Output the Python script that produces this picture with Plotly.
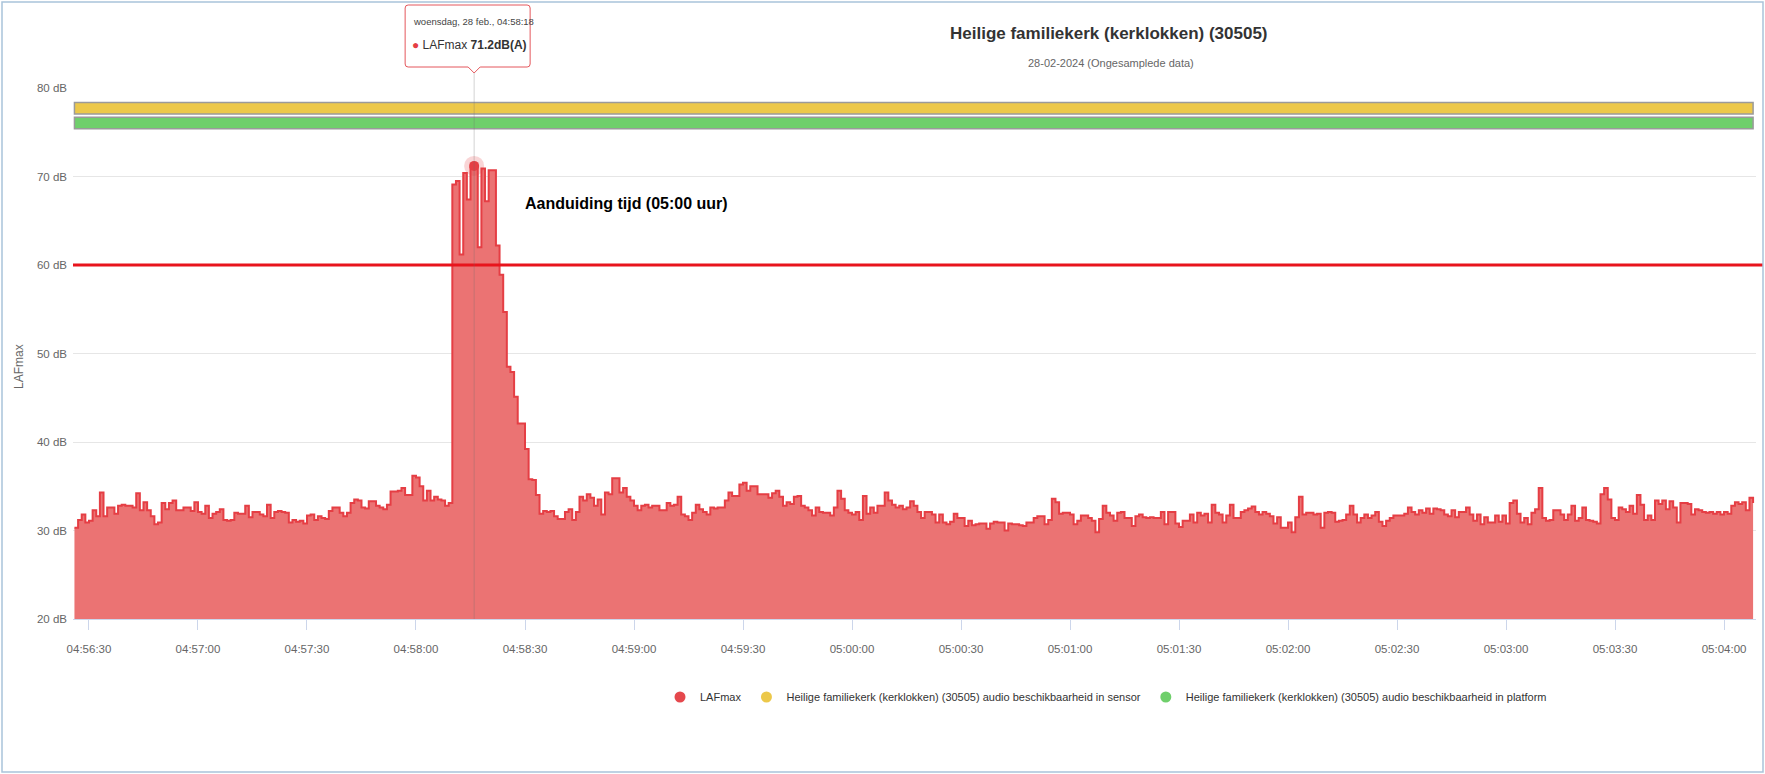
import pandas as pd
import plotly.graph_objects as go

# ---------------- data ----------------
title_text = "Heilige familiekerk (kerklokken) (30505)"
subtitle_text = "28-02-2024 (Ongesamplede data)"
series_name = "LAFmax"
sensor_name = "Heilige familiekerk (kerklokken) (30505) audio beschikbaarheid in sensor"
platform_name = "Heilige familiekerk (kerklokken) (30505) audio beschikbaarheid in platform"
first_timestamp = "2024-02-28 04:56:26"
sample_seconds = 1

# LAFmax (dB(A)) per second, 04:56:26 - 04:58:09
lafmax_before = [
    30.3, 31.2, 31.8, 30.9, 31.1, 32.3, 31.6, 34.3, 31.6, 32.6,
    32.6, 31.9, 32.8, 32.9, 32.8, 32.8, 32.6, 34.2, 32.3, 33.2,
    32.3, 31.6, 30.7, 30.9, 33.1, 32.4, 33.1, 33.4, 32.3, 32.3,
    32.6, 32.6, 32.2, 33.2, 32.1, 31.9, 32.8, 31.4, 31.9, 32.1,
    32.4, 31.2, 31.1, 31.2, 32.0, 31.9, 31.9, 32.8, 31.5, 32.1,
    32.1, 31.8, 31.6, 32.9, 31.4, 32.1, 32.2, 32.1, 32.0, 30.9,
    31.2, 31.0, 31.1, 30.8, 31.7, 31.8, 31.2, 31.6, 31.4, 31.3,
    32.2, 32.6, 32.6, 32.0, 31.6, 32.0, 33.1, 33.5, 33.4, 32.6,
    32.5, 33.3, 33.3, 32.8, 32.6, 32.4, 32.9, 34.4, 34.4, 34.5,
    34.8, 34.0, 34.0, 36.2, 36.0, 35.0, 33.4, 34.5, 33.4, 33.8,
    33.5, 33.4, 32.8, 33.1,
]
# church bells, 04:58:10 - 04:58:33
lafmax_bells = [
    69.1, 69.5, 61.2, 70.4, 67.4, 71.0, 71.2, 62.0, 70.9, 67.2,
    70.7, 70.7, 62.2, 58.9, 54.7, 48.5, 47.9, 45.1, 42.1, 42.1,
    39.2, 35.8, 35.7, 34.0,
]
# 04:58:34 - 04:58:59
lafmax_after = [
    31.9, 32.2, 32.1, 32.2, 31.6, 31.3, 31.3, 32.1, 32.4, 31.2,
    32.1, 33.8, 33.4, 34.1, 33.7, 32.8, 33.5, 31.8, 34.3, 34.1,
    35.9, 35.9, 34.3, 34.8, 33.8, 33.4,
]
# 04:59:00 - 05:01:34
lafmax_mid = [
    32.8, 32.3, 32.8, 32.9, 32.6, 32.8, 32.8, 32.3, 32.3, 33.1,
    32.8, 32.9, 33.8, 31.8, 31.6, 31.2, 32.0, 32.9, 32.4, 32.1,
    31.8, 32.6, 32.5, 32.6, 32.6, 33.4, 34.3, 33.9, 33.9, 35.2,
    35.4, 34.5, 35.0, 35.0, 34.1, 34.1, 34.1, 33.7, 34.2, 34.5,
    33.8, 32.8, 33.2, 33.0, 33.8, 33.9, 32.8, 32.6, 32.3, 31.7,
    32.6, 32.1, 32.0, 32.0, 31.7, 32.6, 34.5, 33.6, 32.3, 32.0,
    31.8, 32.1, 31.2, 33.9, 31.9, 32.6, 32.0, 32.8, 32.8, 34.3,
    33.4, 32.9, 32.6, 32.8, 32.4, 32.6, 33.3, 32.8, 32.1, 31.4,
    32.1, 32.1, 31.8, 30.9, 31.8, 30.9, 30.7, 31.0, 31.9, 31.4,
    31.4, 30.5, 31.1, 30.6, 30.7, 30.8, 30.8, 30.2, 30.8, 31.0,
    30.9, 30.9, 30.0, 30.8, 30.7, 30.7, 30.6, 30.5, 30.9, 30.9,
    31.4, 31.6, 31.6, 30.7, 31.2, 33.6, 33.2, 31.9, 32.0, 32.0,
    31.8, 30.7, 31.1, 31.7, 31.7, 31.4, 31.1, 29.8, 31.3, 32.8,
    32.0, 31.7, 31.1, 32.0, 32.1, 31.4, 31.4, 30.5, 31.6, 31.8,
    31.5, 31.4, 31.5, 31.4, 31.4, 32.1, 30.7, 32.1, 32.1, 30.8,
    30.4, 31.1, 31.1, 31.8, 30.9,
]
# 05:01:35 - 05:04:08
lafmax_end = [
    32.0, 31.7, 31.9, 30.9, 32.9, 32.0, 31.8, 30.9, 31.7, 32.9,
    31.4, 31.4, 32.1, 32.3, 32.5, 32.7, 32.1, 31.8, 32.1, 31.9,
    31.6, 30.8, 31.5, 30.3, 30.3, 30.9, 29.8, 31.5, 33.8, 31.8,
    32.0, 32.0, 31.8, 31.9, 30.3, 32.0, 32.1, 32.0, 31.0, 31.1,
    31.2, 31.8, 32.8, 31.8, 30.9, 31.4, 31.8, 31.4, 31.7, 32.1,
    31.0, 30.5, 31.1, 31.4, 31.7, 31.7, 31.7, 31.9, 32.6, 32.1,
    31.8, 32.3, 32.0, 32.5, 31.9, 32.5, 32.4, 32.3, 31.8, 31.6,
    32.3, 31.5, 32.1, 32.1, 32.6, 31.8, 31.1, 31.8, 30.7, 31.5,
    30.9, 30.9, 31.7, 31.0, 31.7, 30.8, 33.1, 33.4, 31.9, 30.9,
    31.4, 30.7, 32.0, 32.4, 34.8, 31.4, 31.1, 31.2, 32.3, 32.3,
    31.8, 31.2, 31.8, 32.8, 31.1, 31.4, 32.6, 31.2, 31.1, 31.0,
    30.8, 34.1, 34.8, 33.5, 31.4, 31.2, 32.6, 32.4, 32.1, 32.8,
    31.9, 34.0, 32.9, 31.2, 31.7, 31.2, 33.4, 33.0, 33.4, 32.4,
    33.3, 32.6, 30.9, 33.1, 33.1, 33.0, 31.8, 32.4, 32.3, 32.1,
    32.0, 32.1, 31.9, 32.1, 31.8, 32.1, 31.9, 32.8, 33.2, 33.0,
    33.2, 32.3, 33.7, 33.1,
]

threshold_db = 60
y_tick_values = [20, 30, 40, 50, 60, 70, 80]
y_tick_labels = ["20 dB", "30 dB", "40 dB", "50 dB", "60 dB", "70 dB", "80 dB"]
sensor_band_level = 77.7
platform_band_level = 76.05
note_text = "Aanduiding tijd (05:00 uur)"
note_time = "2024-02-28 04:58:29.5"
note_level = 67.0
tooltip_label = "woensdag, 28 feb., 04:58:18"

# ---------------- build ----------------
lafmax = lafmax_before + lafmax_bells + lafmax_after + lafmax_mid + lafmax_end
times = pd.date_range(first_timestamp, periods=len(lafmax), freq=f"{sample_seconds}s")
t_first, t_last = times[0], times[-1]
peak_idx = max(range(len(lafmax)), key=lambda i: lafmax[i])
peak_time, peak_val = times[peak_idx], lafmax[peak_idx]
x_range = [t_first - pd.Timedelta(seconds=0.4), t_last + pd.Timedelta(seconds=0.8)]
span_ms = (t_last - t_first).total_seconds() * 1000

FONT = "Liberation Sans, Arial, sans-serif"
RED = "#e53e44"
YELLOW = "#ecc84a"
GREEN = "#6fcf6b"
TIP_BORDER = "#e4575c"

W, H = 1765, 774
ML, MR, MT, MB = 73, 9, 88, 155
PW, PH = W - ML - MR, H - MT - MB


def px(x):
    return (x - ML) / PW


def py(y):
    return (H - MB - y) / PH


fig = go.Figure()

fig.add_trace(go.Scatter(
    x=times, y=lafmax, mode="lines", line=dict(shape="hv", color=RED, width=2),
    fill="tozeroy", fillcolor="#eb7373", showlegend=False, hoverinfo="skip"))

for lvl, col in [(sensor_band_level, YELLOW), (platform_band_level, GREEN)]:
    fig.add_trace(go.Bar(
        orientation="h", y=[lvl], x=[span_ms], base=[t_first], width=1.3,
        marker=dict(color=col, line=dict(color="#9a9a9a", width=1.5)),
        showlegend=False, hoverinfo="skip"))

# peak marker (hovered point)
fig.add_trace(go.Scatter(x=[peak_time], y=[peak_val], mode="markers",
                         marker=dict(size=20, color="rgba(229,62,68,0.22)"),
                         showlegend=False, hoverinfo="skip"))
fig.add_trace(go.Scatter(x=[peak_time], y=[peak_val], mode="markers",
                         marker=dict(size=10, color=RED),
                         showlegend=False, hoverinfo="skip"))

# legend entries
for name, col in [(series_name, "#e5484d"), (sensor_name, YELLOW), (platform_name, GREEN)]:
    fig.add_trace(go.Scatter(x=[None], y=[None], mode="markers", name=name,
                             marker=dict(symbol="circle", size=11, color=col)))

# threshold line
fig.add_shape(type="line", xref="paper", yref="y", x0=0, x1=(W - 2 - ML) / PW,
              y0=threshold_db, y1=threshold_db, line=dict(color="#e8141c", width=3), layer="above")
# crosshair
fig.add_shape(type="line", xref="x", yref="paper", x0=peak_time, x1=peak_time,
              y0=0, y1=py(73), line=dict(color="rgba(110,110,110,0.3)", width=1), layer="above")
# tooltip callout box (pixel offsets around the hovered point)
tip_path = ("M -66,0 L -6,0 L 0,-6 L 6,0 L 53,0 Q 56,0 56,3 L 56,59 Q 56,62 53,62 "
            "L -66,62 Q -69,62 -69,59 L -69,3 Q -69,0 -66,0 Z")
fig.add_shape(type="path", xref="x", xsizemode="pixel", xanchor=peak_time,
              yref="paper", ysizemode="pixel", yanchor=py(67),
              path=tip_path, fillcolor="white", line=dict(color=TIP_BORDER, width=1), layer="above")
# outer frame
fig.add_shape(type="rect", xref="paper", yref="paper", x0=px(2), x1=px(W - 2),
              y0=py(H - 2), y1=py(2), line=dict(color="#a9c3da", width=1.5))

fig.add_annotation(xref="paper", yref="paper", x=px(1109), y=py(33), xanchor="center", yanchor="middle",
                   text="<b>" + title_text + "</b>", showarrow=False,
                   font=dict(family=FONT, size=17, color="#333333"))
fig.add_annotation(xref="paper", yref="paper", x=px(1111), y=py(63), xanchor="center", yanchor="middle",
                   text=subtitle_text, showarrow=False,
                   font=dict(family=FONT, size=11, color="#666666"))
fig.add_annotation(xref="paper", yref="paper", x=px(19), y=py(366), xanchor="center", yanchor="middle",
                   text=series_name, textangle=-90, showarrow=False,
                   font=dict(family=FONT, size=12, color="#666666"))
fig.add_annotation(xref="x", yref="y", x=note_time, y=note_level, text="<b>" + note_text + "</b>",
                   xanchor="left", yanchor="middle", showarrow=False,
                   font=dict(family=FONT, size=16, color="#000000"))
# tooltip text
fig.add_annotation(xref="x", yref="paper", x=peak_time, y=py(21), xanchor="left", yanchor="middle",
                   xshift=-63, text=tooltip_label, showarrow=False,
                   font=dict(family=FONT, size=9.5, color="#444444"))
fig.add_annotation(xref="x", yref="paper", x=peak_time, y=py(45), xanchor="left", yanchor="middle",
                   xshift=-64,
                   text=f"<span style='color:{RED}'>●</span> {series_name} <b>{peak_val:.1f}dB(A)</b>",
                   showarrow=False, font=dict(family=FONT, size=12, color="#333333"))

fig.update_layout(
    width=W, height=H, margin=dict(l=ML, r=MR, t=MT, b=MB, autoexpand=False),
    paper_bgcolor="white", plot_bgcolor="white", barmode="overlay",
    font=dict(family=FONT, color="#666666"),
    legend=dict(orientation="h", x=px(660), xanchor="left", y=py(697), yanchor="middle",
                font=dict(family=FONT, size=11, color="#333333"), itemwidth=30),
    xaxis=dict(type="date", range=x_range, tickformat="%H:%M:%S", dtick=30000,
               tick0="2024-02-28 04:56:30", showgrid=False, showline=True, linecolor="#ccd6eb",
               linewidth=1, ticks="outside", tickcolor="#ccd6eb", ticklen=10, ticklabelstandoff=9,
               tickfont=dict(family=FONT, size=11.5, color="#666666"), zeroline=False),
    yaxis=dict(range=[20, 80], tickvals=y_tick_values, ticktext=y_tick_labels, showgrid=True,
               gridcolor="#e6e6e6", gridwidth=1, zeroline=False, showline=False,
               tickfont=dict(family=FONT, size=11.5, color="#666666"), ticklabelstandoff=5),
)

fig.write_html("out.html", config={"displayModeBar": False},
               post_script="document.body.style.margin='0';document.body.style.overflow='hidden';")
